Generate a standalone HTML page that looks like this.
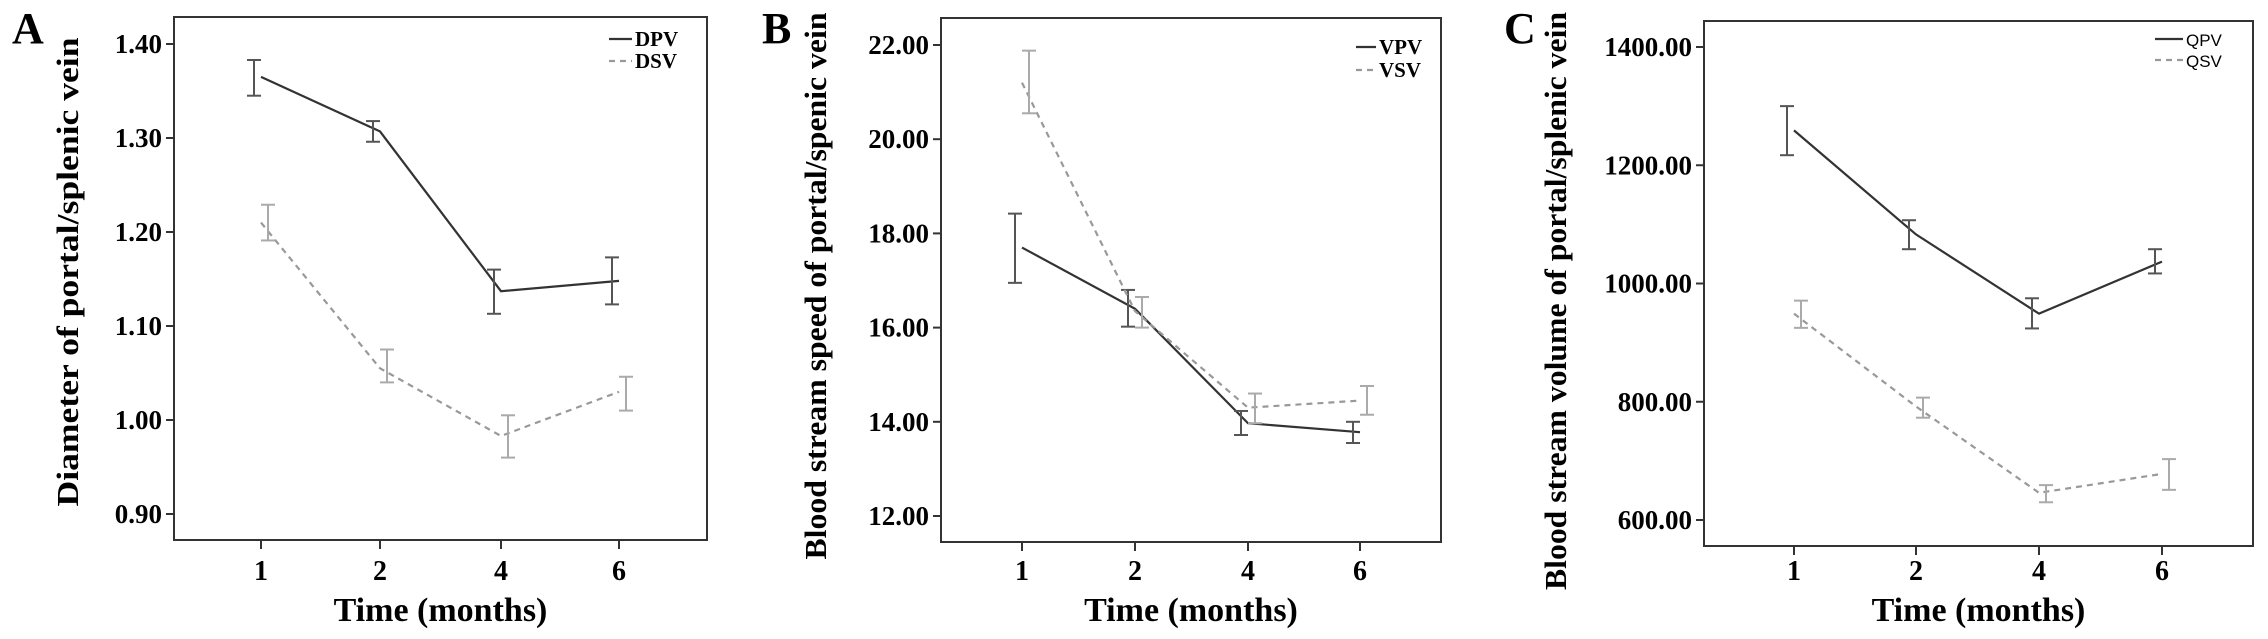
<!DOCTYPE html>
<html><head><meta charset="utf-8"><style>
html,body{margin:0;padding:0;background:#fff;}
svg{display:block;font-family:"Liberation Serif",serif;}
</style></head><body>
<svg id="fig" width="2268" height="639" viewBox="0 0 2268 639"></svg>
<script>
const NS="http://www.w3.org/2000/svg";
const categories=["1","2","4","6"];
const aTicks=[0.9,1.0,1.1,1.2,1.3,1.4];
const aTickLabels=["0.90","1.00","1.10","1.20","1.30","1.40"];
const aPV=[1.365,1.307,1.137,1.148];
const aPVlo=[1.345,1.296,1.113,1.123];
const aPVhi=[1.383,1.318,1.160,1.173];
const aSV=[1.21,1.055,0.983,1.03];
const aSVlo=[1.191,1.04,0.96,1.01];
const aSVhi=[1.229,1.075,1.005,1.046];
const bTicks=[12,14,16,18,20,22];
const bTickLabels=["12.00","14.00","16.00","18.00","20.00","22.00"];
const bPV=[17.7,16.4,13.97,13.78];
const bPVlo=[16.95,16.02,13.72,13.55];
const bPVhi=[18.42,16.8,14.23,14.0];
const bSV=[21.2,16.35,14.3,14.45];
const bSVlo=[20.55,16.0,13.97,14.15];
const bSVhi=[21.88,16.65,14.6,14.76];
const cTicks=[600,800,1000,1200,1400];
const cTickLabels=["600.00","800.00","1000.00","1200.00","1400.00"];
const cPV=[1259,1083,949,1037];
const cPVlo=[1217,1058,924,1017];
const cPVhi=[1300,1107,975,1058];
const cSV=[949,792,646,678];
const cSVlo=[925,773,630,651];
const cSVhi=[971,807,659,703];

const svg=document.getElementById('fig');
function mk(tag,attrs,parent,text){const e=document.createElementNS(NS,tag);for(const k in attrs)e.setAttribute(k,attrs[k]);if(text!==undefined)e.textContent=text;(parent||svg).appendChild(e);return e;}

function panel(o){
  const g=mk('g',{});
  
  
  const y=v=>o.y0+(o.v0-v)*(o.y1-o.y0)/(o.v0-o.v1);
  const x=i=>o.xs[i];
  const box=mk('rect',{x:o.L,y:o.T,width:o.R-o.L,height:o.B-o.T,fill:'none',stroke:'#333','stroke-width':2},g);
  
  
  const lt=mk('text',{x:o.letterX,y:43,'font-size':44,'font-weight':'bold'},g,o.letter);
  
  
  o.ticks.forEach((t,i)=>{
    const yy=y(t);
    mk('line',{x1:o.L-8,x2:o.L,y1:yy,y2:yy,stroke:'#333','stroke-width':2},g);
    const tl=mk('text',{x:o.L-12,y:yy+9,'font-size':27,'font-weight':'bold','text-anchor':'end'},g,o.tickLabels[i]);
    
    
  });
  categories.forEach((c,i)=>{
    mk('line',{x1:x(i),x2:x(i),y1:o.B,y2:o.B+9,stroke:'#333','stroke-width':2},g);
    const tl=mk('text',{x:x(i),y:580,'font-size':28,'font-weight':'bold','text-anchor':'middle'},g,c);
    
    
  });
  const xt=mk('text',{x:(o.L+o.R)/2,y:621,'font-size':34,'font-weight':'bold','text-anchor':'middle'},g,'Time (months)');
  
  
  const yt=mk('text',{x:0,y:0,'font-size':31,'font-weight':'bold','text-anchor':'middle',textLength:o.ytLen,lengthAdjust:'spacingAndGlyphs',transform:`translate(${o.ytX},${o.ytY}) rotate(-90)`},g,o.yTitle);
  
  
  // series
  const ser=[[o.pv,o.pvlo,o.pvhi,'#333','#555',null,-7,'series-pv'],[o.sv,o.svlo,o.svhi,'#999','#aaa','6,5',7,'series-sv']];
  ser.forEach(s=>{
    const pts=s[0].map((v,i)=>x(i)+','+y(v)).join(' ');
    const pl=mk('polyline',{points:pts,fill:'none',stroke:s[3],'stroke-width':2.2},g);
    if(s[5])pl.setAttribute('stroke-dasharray',s[5]);
    
    
    s[1].forEach((lo,i)=>{
      const ex=x(i)+s[6];
      const eg=mk('g',{stroke:s[4],'stroke-width':2},g);
      
      
      mk('line',{x1:ex,x2:ex,y1:y(lo),y2:y(s[2][i])},eg);
      mk('line',{x1:ex-7,x2:ex+7,y1:y(lo),y2:y(lo)},eg);
      mk('line',{x1:ex-7,x2:ex+7,y1:y(s[2][i]),y2:y(s[2][i])},eg);
    });
  });
  // legend
  const lg=mk('g',{},g);
  
  
  const lf=o.legSans?{'font-family':'"Liberation Sans",sans-serif','font-size':17}:{'font-size':21,'font-weight':'bold'};
  [[o.leg[0],o.legY[0],'#333',null],[o.leg[1],o.legY[1],'#999','6,5']].forEach(e=>{
    const ln=mk('line',{x1:o.legX1,x2:o.legX2,y1:e[1],y2:e[1],stroke:e[2],'stroke-width':2.2},lg);
    if(e[3])ln.setAttribute('stroke-dasharray',e[3]);
    const t=mk('text',Object.assign({x:o.legX2+3,y:e[1]+7},lf),lg,e[0]);
    
    
  });
}
panel({name:'panel-a',letter:'A',letterX:12,L:174,R:707,T:17,B:540,xs:[261,380,501,619],v0:1.4,v1:0.9,y0:44,y1:514,
  ticks:aTicks,tickLabels:aTickLabels,pv:aPV,pvlo:aPVlo,pvhi:aPVhi,sv:aSV,svlo:aSVlo,svhi:aSVhi,
  yTitle:'Diameter of portal/splenic vein',ytX:78,ytY:272,ytLen:469,leg:['DPV','DSV'],legY:[39,61],legX1:609,legX2:632});
panel({name:'panel-b',letter:'B',letterX:762,L:941,R:1441,T:18,B:542,xs:[1022,1135,1248,1360],v0:22,v1:12,y0:45,y1:516,
  ticks:bTicks,tickLabels:bTickLabels,pv:bPV,pvlo:bPVlo,pvhi:bPVhi,sv:bSV,svlo:bSVlo,svhi:bSVhi,
  yTitle:'Blood stream speed of portal/spenic vein',ytX:826,ytY:286,ytLen:547,leg:['VPV','VSV'],legY:[47,70],legX1:1356,legX2:1376});
panel({name:'panel-c',letter:'C',letterX:1504,L:1704,R:2253,T:21,B:546,xs:[1794,1916,2039,2162],v0:1400,v1:600,y0:47,y1:520,
  ticks:cTicks,tickLabels:cTickLabels,pv:cPV,pvlo:cPVlo,pvhi:cPVhi,sv:cSV,svlo:cSVlo,svhi:cSVhi,
  yTitle:'Blood stream volume of portal/splenic vein',ytX:1566,ytY:301,ytLen:578,leg:['QPV','QSV'],legY:[39,60],legX1:2155,legX2:2183,legSans:true});
</script>
</body></html>
